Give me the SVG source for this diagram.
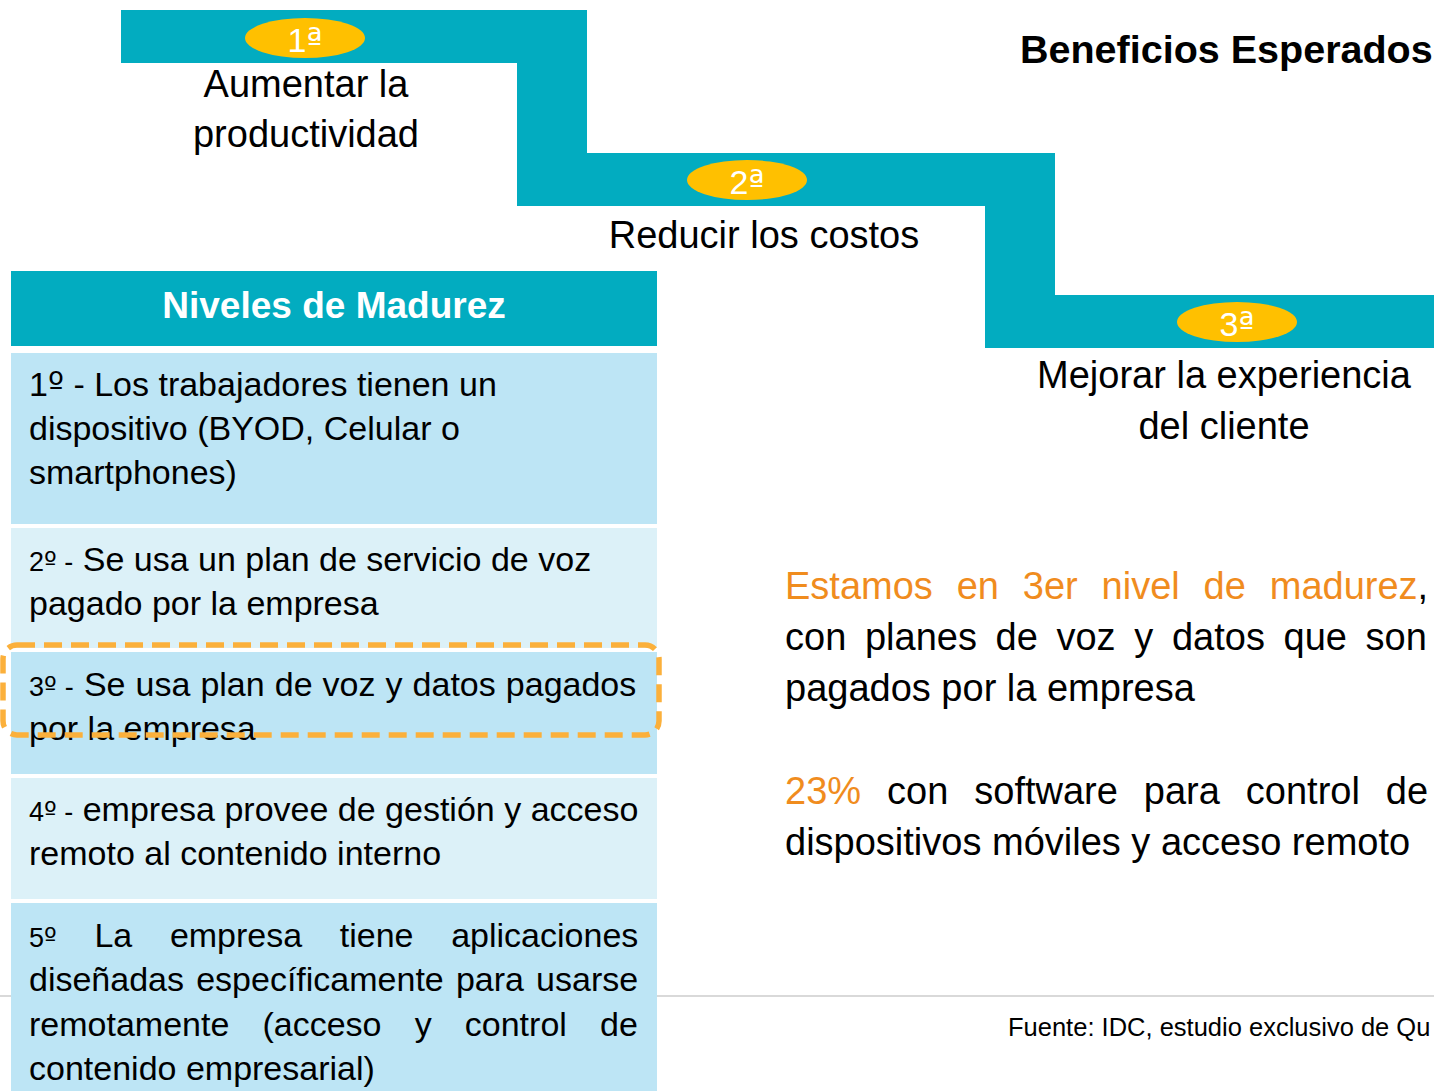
<svg xmlns="http://www.w3.org/2000/svg" width="1434" height="1091" viewBox="0 0 1434 1091">
<defs>
<style>
text{font-family:"Liberation Sans",Arial,sans-serif;fill:#000}
.teal{fill:#02ACC0}
.oval{fill:#FFC000}
.ovt{font-size:34px;fill:#fff;text-anchor:middle}
.ord{font-family:"DejaVu Sans",sans-serif}
.lbl{font-size:38px;text-anchor:middle}
.title{font-size:39.5px;font-weight:bold}
.hdr{font-size:37px;font-weight:bold;fill:#fff;text-anchor:middle}
.rowa{fill:#BDE5F5}
.rowb{fill:#DCF1F8}
.cell{font-size:34px}
.pre{font-size:27px}
.body{font-size:38px}
.org{fill:#F08C1E}
.foot{font-size:25.5px}
</style>
</defs>
<rect x="0" y="0" width="1434" height="1091" fill="#fff"/>
<line x1="0" y1="996" x2="1434" y2="996" stroke="#D9D9D9" stroke-width="2"/>

<g id="staircase">
<path class="teal" d="M121,10 H587 V153 H1055 V295 H1434 V348 H985 V206 H517 V63 H121 Z"/>
</g>

<g id="step1">
<ellipse class="oval" cx="305" cy="38" rx="60" ry="20"/>
<text class="ovt" x="305" y="52">1<tspan class="ord">ª</tspan></text>
<text class="lbl" x="306" y="97">Aumentar la</text>
<text class="lbl" x="306" y="147">productividad</text>
</g>
<g id="step2">
<ellipse class="oval" cx="747" cy="180" rx="60" ry="20"/>
<text class="ovt" x="747" y="194">2<tspan class="ord">ª</tspan></text>
<text class="lbl" x="764" y="248">Reducir los costos</text>
</g>
<g id="step3">
<ellipse class="oval" cx="1237" cy="322" rx="60" ry="20"/>
<text class="ovt" x="1237" y="336">3<tspan class="ord">ª</tspan></text>
<text class="lbl" x="1224" y="388">Mejorar la experiencia</text>
<text class="lbl" x="1224" y="439">del cliente</text>
</g>

<g id="title">
<text class="title" x="1020" y="63">Beneficios Esperados</text>
</g>

<g id="table-header">
<rect class="teal" x="11" y="271" width="646" height="75"/>
<text class="hdr" x="334" y="318">Niveles de Madurez</text>
</g>
<g id="level1">
<rect class="rowa" x="11" y="353" width="646" height="171"/>
<text class="cell" x="29" y="396">1<tspan class="ord">º</tspan> - Los trabajadores tienen un</text>
<text class="cell" x="29" y="440">dispositivo (BYOD, Celular o</text>
<text class="cell" x="29" y="484">smartphones)</text>
</g>
<g id="level2">
<rect class="rowb" x="11" y="528" width="646" height="120"/>
<text class="cell" x="29" y="571"><tspan class="pre">2<tspan class="ord">º</tspan> -</tspan> Se usa un plan de servicio de voz</text>
<text class="cell" x="29" y="615">pagado por la empresa</text>
</g>
<g id="level3">
<rect class="rowa" x="11" y="652" width="646" height="122"/>
<text class="cell" x="29" y="696" word-spacing="0.6"><tspan class="pre">3<tspan class="ord">º</tspan> -</tspan> Se usa plan de voz y datos pagados</text>
<text class="cell" x="29" y="740">por la empresa</text>
</g>
<g id="level4">
<rect class="rowb" x="11" y="778" width="646" height="121"/>
<text class="cell" x="29" y="821"><tspan class="pre">4<tspan class="ord">º</tspan> -</tspan> empresa provee de gestión y acceso</text>
<text class="cell" x="29" y="865">remoto al contenido interno</text>
</g>
<g id="level5">
<rect class="rowa" x="11" y="903" width="646" height="188"/>
<text class="cell" x="29" y="947" word-spacing="28.2"><tspan class="pre">5<tspan class="ord">º</tspan></tspan> La empresa tiene aplicaciones</text>
<text class="cell" x="29" y="991" word-spacing="2.7">diseñadas específicamente para usarse</text>
<text class="cell" x="29" y="1036" word-spacing="23.7">remotamente (acceso y control de</text>
<text class="cell" x="29" y="1080">contenido empresarial)</text>
</g>
<g id="highlight">
<rect x="3" y="645" width="656" height="90" rx="14" fill="none" stroke="#FBB03B" stroke-width="5.5" stroke-dasharray="18 9"/>
</g>

<g id="summary">
<text class="body" x="785" y="599" word-spacing="13.3"><tspan class="org">Estamos en 3er nivel de madurez</tspan>,</text>
<text class="body" x="785" y="650" word-spacing="8.1">con planes de voz y datos que son</text>
<text class="body" x="785" y="701">pagados por la empresa</text>
<text class="body" x="785" y="804" word-spacing="15.4"><tspan class="org">23%</tspan> con software para control de</text>
<text class="body" x="785" y="855">dispositivos móviles y acceso remoto</text>
</g>

<g id="source">
<text class="foot" x="1008" y="1036">Fuente: IDC, estudio exclusivo de Qu</text>
</g>
</svg>
